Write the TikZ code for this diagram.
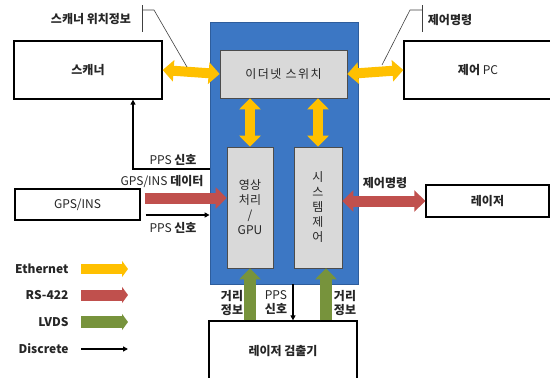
\documentclass[tikz,border=0pt]{standalone}
\usepackage{fontspec}
\setmainfont{Noto Sans CJK KR}
\usepackage{xcolor}
\usetikzlibrary{arrows.meta, positioning, calc}

\definecolor{panelblue}{HTML}{3C77C4}
\definecolor{paneledge}{HTML}{2E5D9C}
\definecolor{boxgray}{HTML}{D9D9D9}
\definecolor{ethyellow}{HTML}{FFC000}
\definecolor{rsred}{HTML}{C0504D}
\definecolor{lvdsgreen}{HTML}{77933C}

\tikzset{
  bigtip/.tip={Triangle[length=11pt, width=21pt]},
  legtip/.tip={Triangle[length=6pt, width=16pt]},
  smalltip/.tip={Triangle[length=5pt, width=5pt]},
}

\begin{document}
\begin{tikzpicture}[x=1pt, y=-1pt, font=\fontsize{12}{14}\selectfont, text=black!85,
    box/.style={draw=black, line width=1.3pt, fill=white, minimum width=148pt, minimum height=58pt},
    unit/.style={draw=black!70, line width=0.7pt, fill=boxgray, align=center},
    lbl/.style={font=\fontsize{12}{14}\selectfont\bfseries, align=center},
    eth/.style={draw=ethyellow, line width=10pt},
    rs/.style={draw=rsred, line width=11pt},
    lvds/.style={draw=lvdsgreen, line width=12pt},
    disc/.style={draw=black, line width=2.4pt, -smalltip},
    callout/.style={draw=black!75, line width=0.6pt}]
  \useasboundingbox (0,0) rectangle (550,378);
  \clip (0,0) rectangle (550,378);

  \node[draw=paneledge, line width=0.8pt, fill=panelblue, minimum width=148pt, minimum height=262pt] (panel) at (284,153) {};
  \node[unit, minimum width=127pt, minimum height=48pt, font=\fontsize{12}{14}\selectfont\addfontfeature{LetterSpace=12}] (switch) at (283.5,74) {이더넷 스위치};
  \node[unit, minimum width=46pt, minimum height=121pt, font=\fontsize{12}{15}\selectfont] (gpu) at (250,207.5) {영상\\처리\\/\\GPU};
  \node[unit, minimum width=48pt, minimum height=121pt, font=\fontsize{12}{15}\selectfont] (sysctl) at (318,207.5) {시\\스\\템\\제\\어};

  \node[box, font=\fontsize{12}{14}\selectfont\bfseries] (scanner) at (88,70) {스캐너};
  \node[box] (pc) at (478,70) {\textbf{제어} PC};
  \node[box, minimum width=125pt, minimum height=31pt] (gps) at (77.5,204.5) {GPS/INS};
  \node[box, minimum width=123pt, minimum height=32pt, font=\fontsize{12}{14}\selectfont\bfseries] (laser) at (487.5,201) {레이저};
  \node[box, minimum height=60pt, font=\fontsize{12}{14}\selectfont\bfseries] (detector) at (283,351) {레이저 검출기};

  % ethernet
  \draw[eth, bigtip-bigtip] (scanner.east) -- (switch.west);
  \draw[eth, bigtip-bigtip] (switch.east) -- (pc.west);
  \draw[eth, bigtip-bigtip] (switch.south -| gpu.north) -- (gpu.north);
  \draw[eth, bigtip-bigtip] (switch.south -| sysctl.north) -- (sysctl.north);

  % rs-422
  \coordinate (gpsOut) at ([shift={(4,-6.5)}]gps.east);
  \draw[rs, -bigtip] (gpsOut) -- (gpu.west |- gpsOut);
  \draw[rs, bigtip-bigtip] (sysctl.east |- laser.west) -- (laser.west);

  % lvds
  \coordinate (ctlIn) at ([shift={(8,0)}]sysctl.south);
  \draw[lvds, -bigtip] (gpu.south |- detector.north) -- (gpu.south);
  \draw[lvds, -bigtip] (ctlIn |- detector.north) -- (ctlIn);

  % discrete
  \coordinate (ppsA) at (panel.west |- 0,169);
  \coordinate (scanIn) at ([shift={(45,0)}]scanner.south);
  \coordinate (gpsPps) at ([shift={(5,10.5)}]gps.east);
  \coordinate (panelOut) at ([shift={(9,0)}]panel.south);
  \draw[disc] (ppsA) -| (scanIn);
  \draw[disc] (gpsPps) -- (panel.west |- gpsPps);
  \draw[disc] (panelOut) -- (panelOut |- detector.north);

  \node[lbl] (scanpos) at (91,19) {스캐너 위치정보};
  \draw[callout] (142,5) -- (142,32);
  \draw[callout] (142,10) -- (154,10) -- (187,67);
  \node[lbl] (pccmd) at (450,20) {제어명령};
  \draw[callout] (422,5) -- (422,32);
  \draw[callout] (422,10) -- (410,10) -- (382,65);

  \node (ppsup) at (173,160) {PPS \textbf{신호}};
  \node (gpsdata) at (162,182) {GPS/INS \textbf{데이터}};
  \node (ppsdown) at (173,228) {PPS \textbf{신호}};
  \node[lbl] (lasercmd) at (385,183) {제어명령};
  \node[lbl, font=\fontsize{12}{14}\selectfont\bfseries] (rangeA) at (232,303) {거리\\정보};
  \node[align=center, font=\fontsize{12}{14}\selectfont] (ppsdet) at (276,303) {PPS\\\textbf{신호}};
  \node[lbl, font=\fontsize{12}{14}\selectfont\bfseries] (rangeB) at (345,303) {거리\\정보};

  % legend
  \node[lbl, anchor=east] (lgEth) at (72,269) {Ethernet};
  \node[lbl, anchor=east] (lgRs) at (72,295) {RS-422};
  \node[lbl, anchor=east] (lgLvds) at (72,322) {LVDS};
  \node[lbl, anchor=east] (lgDisc) at (72,349) {Discrete};
  \draw[eth, -legtip] ([shift={(9,0)}]lgEth.east) -- ++(47,0);
  \draw[rs, -legtip] ([shift={(9,0)}]lgRs.east) -- ++(47,0);
  \draw[lvds, -legtip] ([shift={(9,0)}]lgLvds.east) -- ++(47,0);
  \draw[disc] ([shift={(9,0)}]lgDisc.east) -- ++(47,0);
\end{tikzpicture}
\end{document}
